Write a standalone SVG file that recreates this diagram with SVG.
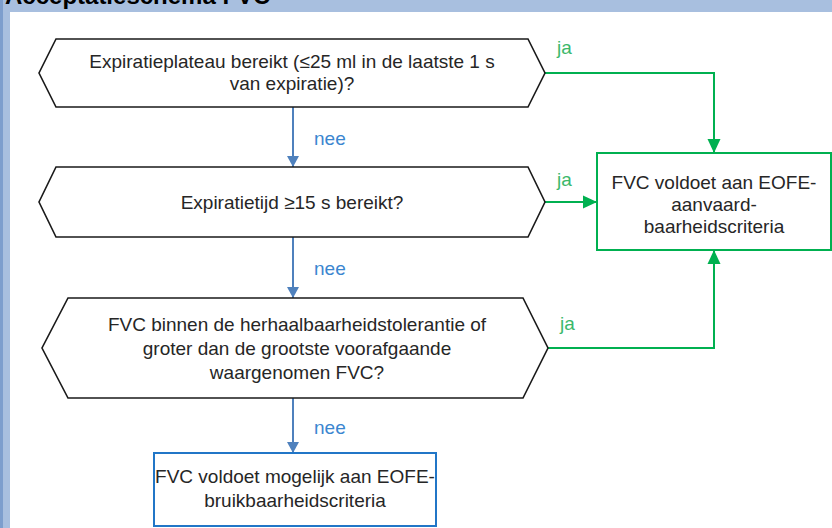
<svg xmlns="http://www.w3.org/2000/svg" width="832" height="528" viewBox="0 0 832 528">
<style>
text{font-family:"Liberation Sans",Arial,sans-serif;font-size:19px;fill:#262626}
.c{text-anchor:middle}
.hex{fill:#fff;stroke:#1a1a1a;stroke-width:1.6}
.g{fill:none;stroke:#00b050;stroke-width:2}
.b{fill:none;stroke:#4f81bd;stroke-width:2}
.gl{fill:#3bb86a}
.bl{fill:#3a86d0}
</style>
<defs>
<marker id="ag" markerWidth="14" markerHeight="14" refX="14" refY="7" orient="auto" markerUnits="userSpaceOnUse"><path d="M0,0.5 L14,7 L0,13.5 Z" fill="#00b050"/></marker>
<marker id="ab" markerWidth="12" markerHeight="12" refX="11" refY="6" orient="auto" markerUnits="userSpaceOnUse"><path d="M0,0 L11,6 L0,12 Z" fill="#4f81bd"/></marker>
</defs>
<rect x="0" y="0" width="832" height="528" fill="#a8bfdf"/>
<rect x="0" y="0" width="3" height="528" fill="#7d9ecd"/>
<rect x="10" y="12" width="822" height="516" fill="#fff"/>
<text x="5" y="4" style="font-weight:bold;font-size:24px;fill:#000">Acceptatieschema FVC</text>
<g id="connectors">
<path class="b" d="M293,107 V167" marker-end="url(#ab)"/>
<path class="b" d="M293,237 V298" marker-end="url(#ab)"/>
<path class="b" d="M293,398 V453" marker-end="url(#ab)"/>
<path class="g" d="M545,73 H714 V153" marker-end="url(#ag)"/>
<path class="g" d="M545,202 H597" marker-end="url(#ag)"/>
<path class="g" d="M548,348 H714 V250" marker-end="url(#ag)"/>
<text class="bl" x="314" y="145">nee</text>
<text class="bl" x="314" y="275">nee</text>
<text class="bl" x="314" y="434">nee</text>
<text class="gl" x="557" y="54">ja</text>
<text class="gl" x="557" y="186">ja</text>
<text class="gl" x="560" y="330">ja</text>
</g>
<g id="q1">
<polygon class="hex" points="56,39 528,39 545,73 528,107 56,107 39,73"/>
<text class="c" x="292" y="67.5">Expiratieplateau bereikt (≤25 ml in de laatste 1 s</text>
<text class="c" x="292" y="89.5">van expiratie)?</text>
</g>
<g id="q2">
<polygon class="hex" points="56,167 528,167 545,202 528,237 56,237 39,202"/>
<text class="c" x="292" y="208.5">Expiratietijd ≥15 s bereikt?</text>
</g>
<g id="q3">
<polygon class="hex" points="68,298 523,298 548,348 523,398 68,398 42,348"/>
<text class="c" x="297" y="331">FVC binnen de herhaalbaarheidstolerantie of</text>
<text class="c" x="297" y="355">groter dan de grootste voorafgaande</text>
<text class="c" x="297" y="379">waargenomen FVC?</text>
</g>
<g id="accept">
<rect x="597" y="153" width="234" height="97" fill="#fff" stroke="#00b050" stroke-width="2"/>
<text class="c" x="714" y="189">FVC voldoet aan EOFE-</text>
<text class="c" x="714" y="211">aanvaard-</text>
<text class="c" x="714" y="233">baarheidscriteria</text>
</g>
<g id="usable">
<rect x="154" y="453" width="282" height="73" fill="#fff" stroke="#2176c7" stroke-width="2"/>
<text class="c" x="295" y="483">FVC voldoet mogelijk aan EOFE-</text>
<text class="c" x="295" y="507">bruikbaarheidscriteria</text>
</g>
</svg>
